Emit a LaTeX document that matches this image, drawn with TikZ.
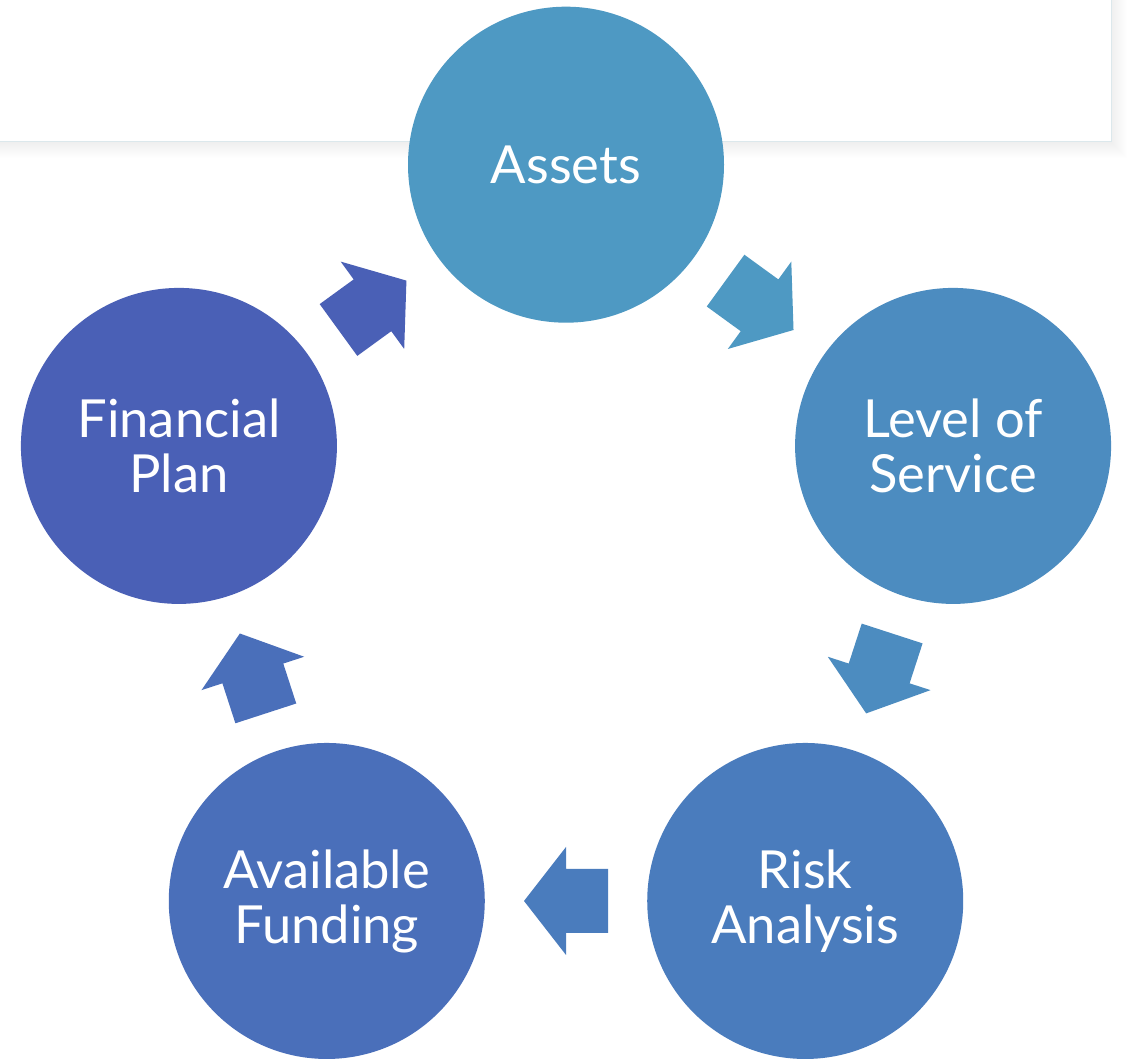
\documentclass[tikz,border=0pt]{standalone}
\usepackage{fontspec}
\setmainfont{Lato}
\usetikzlibrary{calc}
\definecolor{cA}{HTML}{4E99C3}
\definecolor{cL}{HTML}{4C8CC0}
\definecolor{cR}{HTML}{4A7CBD}
\definecolor{cF}{HTML}{4A6FBA}
\definecolor{cP}{HTML}{4A60B6}
\definecolor{boxline}{HTML}{DCE8EC}
\tikzset{
  bub/.style={circle, minimum size=316pt, inner sep=0pt, text=white, align=center,
    font=\fontsize{52.5}{55}\selectfont},
  barrow/.pic={\fill[pic actions] (-42,-32) -- (0,-32) -- (0,-54) -- (42,0) -- (0,54) -- (0,32) -- (-42,32) -- cycle;}
}
\begin{document}
\begin{tikzpicture}[x=1pt,y=1pt]
\useasboundingbox[fill=white] (0,0) rectangle (1127,1060);
% top box with soft shadow
\foreach \i in {1,...,16}{
  \fill[black, opacity=0.0035] (-20,918-\i) rectangle (1111+\i,1080);
}
\fill[white, draw=boxline, line width=1pt] (-20,918) rectangle (1111,1080);
\coordinate (c) at (566,488.3);
\node[bub, fill=cA] (assets) at ($(c)+(90:407)$) {Assets};
\node[bub, fill=cL] (level) at ($(c)+(18:407)$) {Level of\\Service};
\node[bub, fill=cR] (risk) at ($(c)+(-54:407)$) {Risk\\Analysis};
\node[bub, fill=cF] (fund) at ($(c)+(-126:407)$) {Available\\Funding};
\node[bub, fill=cP] (plan) at ($(c)+(162:407)$) {Financial\\Plan};
\pic[fill=cA, rotate=-36] at ($(assets)!0.5!(level)$) {barrow};
\pic[fill=cL, rotate=-108] at ($(level)!0.5!(risk)$) {barrow};
\pic[fill=cR, rotate=180] at ($(risk)!0.5!(fund)$) {barrow};
\pic[fill=cF, rotate=108] at ($(fund)!0.5!(plan)$) {barrow};
\pic[fill=cP, rotate=36] at ($(plan)!0.5!(assets)$) {barrow};
\end{tikzpicture}
\end{document}
